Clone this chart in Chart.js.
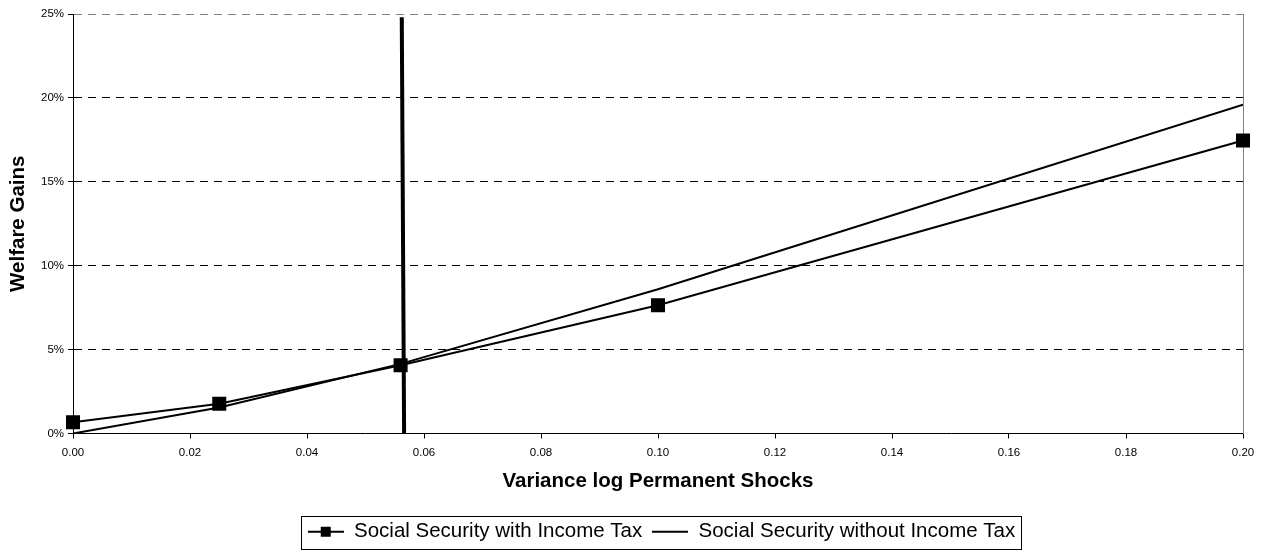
<!DOCTYPE html>
<html>
<head>
<meta charset="utf-8">
<script src="https://cdn.jsdelivr.net/npm/chart.js@4/dist/chart.umd.min.js"></script>
<style>
  html, body { margin: 0; padding: 0; background: #fff; }
  #wrap { width: 1266px; height: 552px; }
</style>
</head>
<body>
<div id="wrap"><canvas id="welfare" width="1266" height="552"></canvas></div>
<script>
// variance of log permanent shocks (x) and welfare gains in percent (y)
var withTaxX = [0, 0.025, 0.056, 0.10, 0.20];
var withTaxY = [0.67, 1.77, 4.07, 7.64, 17.46];
var withoutTaxX = [0, 0.025, 0.056, 0.10, 0.20];
var withoutTaxY = [0.0, 1.55, 4.15, 8.6, 19.6];
// threshold marker drawn as a near-vertical line
var cutoffX = [0.0566, 0.0562];
var cutoffY = [0, 24.8];

var seriesLabels = ["Social Security with Income Tax", "Social Security without Income Tax"];
var xTitle = "Variance log Permanent Shocks";
var yTitle = "Welfare Gains";

function pairs(xs, ys) {
  return xs.map(function(x, i) { return { x: x, y: ys[i] }; });
}

// little legend swatches: line with a square, and a plain line
function swatch(withSquare) {
  var c = document.createElement("canvas");
  c.width = 36; c.height = 14;
  var g = c.getContext("2d");
  g.strokeStyle = "#000"; g.lineWidth = 2;
  g.beginPath(); g.moveTo(0, 7); g.lineTo(36, 7); g.stroke();
  if (withSquare) { g.fillStyle = "#000"; g.fillRect(13, 2, 10, 10); }
  return c;
}
var swatches = [swatch(true), swatch(false)];

// nudge the legend right, then put a box round it
var legendFrame = {
  id: "legendFrame",
  afterLayout: function(chart) {
    var lg = chart.legend;
    lg.left += 40; lg.right += 40;
  },
  afterDraw: function(chart) {
    var boxes = chart.legend.legendHitBoxes;
    if (!boxes || !boxes.length) return;
    var l = Math.min.apply(null, boxes.map(function(b) { return b.left; }));
    var r = Math.max.apply(null, boxes.map(function(b) { return b.left + b.width; }));
    var t = Math.round(boxes[0].top);
    var ctx = chart.ctx;
    ctx.save();
    ctx.strokeStyle = "#000"; ctx.lineWidth = 1;
    ctx.strokeRect(Math.round(l) - 6.5, t - 5.5, Math.round(r - l) + 12, 33);
    ctx.restore();
  }
};

var font = "'Liberation Sans', Arial, sans-serif";
Chart.defaults.font.family = font;
Chart.defaults.color = "#000";

new Chart(document.getElementById("welfare"), {
  type: "scatter",
  data: {
    datasets: [
      { label: seriesLabels[0], data: pairs(withTaxX, withTaxY), showLine: true, clip: false,
        borderColor: "#000", backgroundColor: "#000", borderWidth: 2,
        pointStyle: "rect", pointRadius: 8.5, pointHoverRadius: 8.5, tension: 0 },
      { label: seriesLabels[1], data: pairs(withoutTaxX, withoutTaxY), showLine: true,
        borderColor: "#000", backgroundColor: "#000", borderWidth: 2,
        pointRadius: 0, pointHoverRadius: 0, tension: 0 },
      { label: "cutoff", data: pairs(cutoffX, cutoffY), showLine: true,
        borderColor: "#000", borderWidth: 4, pointRadius: 0, pointHoverRadius: 0 }
    ]
  },
  options: {
    responsive: false,
    animation: false,
    layout: { padding: { left: 0, right: 23, top: 14, bottom: 0 } },
    plugins: {
      tooltip: { enabled: false },
      legend: {
        position: "bottom",
        labels: {
          usePointStyle: true,
          pointStyleWidth: 36,
          padding: 10,
          font: { size: 20.5 },
          color: "#000",
          generateLabels: function(chart) {
            return seriesLabels.map(function(t, i) {
              return { text: t, datasetIndex: i, pointStyle: swatches[i],
                       fillStyle: "#000", strokeStyle: "#000", lineWidth: 0, hidden: false };
            });
          }
        }
      }
    },
    scales: {
      x: {
        type: "linear", min: 0, max: 0.2,
        afterFit: function(s) { s.height = 78; },
        ticks: { stepSize: 0.02, padding: 7, font: { size: 11.5 },
                 callback: function(v) { return v.toFixed(2); } },
        grid: { drawOnChartArea: false, drawTicks: true, tickLength: 5, tickColor: "#000" },
        border: { color: "#000", width: 1 },
        title: { display: true, text: xTitle, font: { size: 20.5, weight: "bold" },
                 padding: { top: 0, bottom: 17.5 } }
      },
      y: {
        min: 0, max: 25,
        afterFit: function(s) { s.width = 73; },
        ticks: { stepSize: 5, padding: 4, font: { size: 11.5 },
                 callback: function(v) { return v + "%"; } },
        grid: {
          color: function(c) { return c.tick && c.tick.value === 25 ? "#808080" : (c.tick && c.tick.value === 0 ? "rgba(0,0,0,0)" : "#000"); },
          lineWidth: 1, drawTicks: true, tickLength: 5, tickColor: "#000", tickBorderDash: []
        },
        border: { color: "#000", width: 1, dash: [8, 6] },
        title: { display: true, text: yTitle, font: { size: 20.5, weight: "bold" },
                 padding: { top: 6, bottom: 0 } }
      },
      yRight: {
        position: "right", min: 0, max: 25,
        afterFit: function(s) { s.width = 0; },
        ticks: { display: false },
        grid: { drawOnChartArea: false, drawTicks: false },
        border: { color: "#808080", width: 1 }
      }
    }
  },
  plugins: [legendFrame]
});
</script>
</body>
</html>
